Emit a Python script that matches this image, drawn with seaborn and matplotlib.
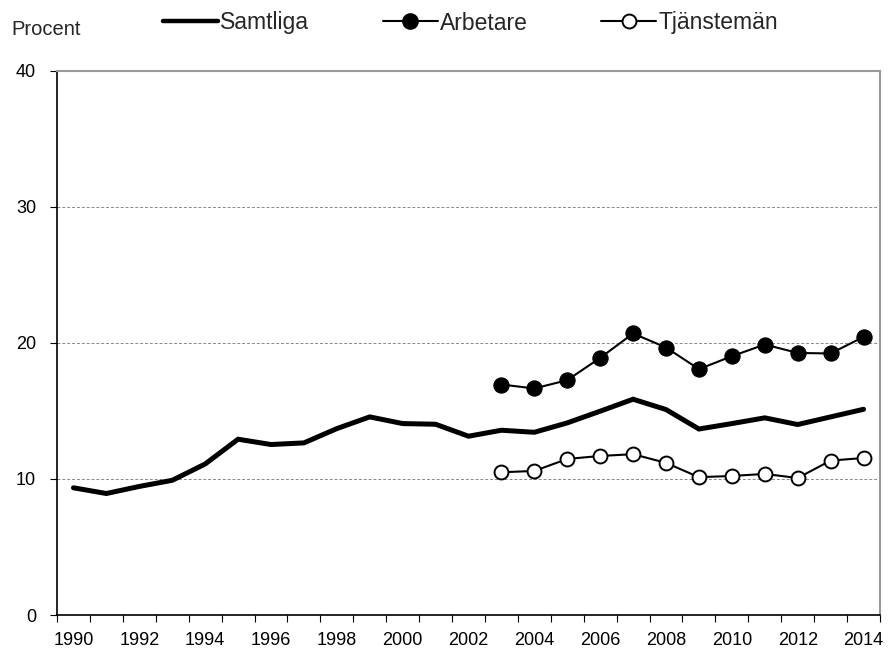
import matplotlib
matplotlib.use("Agg")
import matplotlib.pyplot as plt
import seaborn as sns
import pandas as pd
import numpy as np
from matplotlib.lines import Line2D

years = list(range(1990, 2015))
samtliga = [9.35, 8.93, 9.45, 9.9, 11.1, 12.92, 12.53, 12.65, 13.7, 14.56, 14.07,
            14.02, 13.14, 13.58, 13.43, 14.12, 14.98, 15.86, 15.1, 13.67, 14.07,
            14.49, 14.0, 14.56, 15.12]
years_sub = list(range(2003, 2015))
arbetare = [16.94, 16.65, 17.26, 18.9, 20.69, 19.66, 18.07, 19.02, 19.88, 19.26, 19.22, 20.44]
tjansteman = [10.49, 10.59, 11.47, 11.69, 11.82, 11.18, 10.13, 10.22, 10.37, 10.07, 11.35, 11.54]
tick_labels = [str(y) for y in range(1990, 2015, 2)]

sns.set_theme(style="white")
plt.rcParams['font.family'] = ['Liberation Sans', 'DejaVu Sans']

pos = {y: i for i, y in enumerate(years)}
df_all = pd.DataFrame({"x": [pos[y] for y in years], "v": samtliga})
df_arb = pd.DataFrame({"x": [pos[y] for y in years_sub], "v": arbetare})
df_tj = pd.DataFrame({"x": [pos[y] for y in years_sub], "v": tjansteman})

fig = plt.figure(figsize=(8.88, 6.5), dpi=100)
ax = fig.add_axes([0.0642, 0.0538, 0.9268, 0.8374])

sns.lineplot(data=df_all, x="x", y="v", ax=ax, color="black", linewidth=3.6,
             solid_joinstyle="miter")
sns.lineplot(data=df_arb, x="x", y="v", ax=ax, color="black", linewidth=1.5,
             marker="o", markersize=11, markerfacecolor="black", markeredgecolor="black")
sns.lineplot(data=df_tj, x="x", y="v", ax=ax, color="black", linewidth=1.5,
             marker="o", markersize=10, markerfacecolor="white", markeredgecolor="black",
             markeredgewidth=1.4)

ax.set_xlim(-0.5, len(years) - 0.5)
ax.set_ylim(0, 40)
ax.set_xlabel("")
ax.set_ylabel("")

ax.set_xticks(list(range(0, len(years), 2)))
ax.set_xticklabels(tick_labels)
ax.set_xticks(np.arange(-0.5, len(years), 1.0), minor=True)
ax.tick_params(axis="x", which="major", length=0, labelsize=13, pad=12, colors="black")
ax.tick_params(axis="x", which="minor", length=5, width=0.8, color="black", direction="out",
               bottom=True)
ax.set_yticks([0, 10, 20, 30, 40])
ax.tick_params(axis="y", which="major", length=5, width=0.8, color="black", direction="out",
               left=True, labelsize=13, pad=10, labelcolor="black")

for v in [10, 20, 30]:
    ax.axhline(v, color="#888888", linewidth=0.7, linestyle=(0, (3, 2)), zorder=0)

for s in ["left", "bottom"]:
    ax.spines[s].set_color("black")
    ax.spines[s].set_linewidth(1.2)
for s in ["top", "right"]:
    ax.spines[s].set_color("#999999")
    ax.spines[s].set_linewidth(1.5)

if ax.get_legend() is not None:
    ax.get_legend().remove()

fig.text(11.7 / 888, 1 - 35 / 650, "Procent", fontsize=14.5, ha="left", va="baseline")

handles = [
    Line2D([], [], color="black", linewidth=3.2),
    Line2D([], [], color="black", linewidth=1.5, marker="o", markersize=11,
           markerfacecolor="black"),
    Line2D([], [], color="black", linewidth=1.5, marker="o", markersize=10,
           markerfacecolor="white", markeredgewidth=1.4),
]
fig.legend(handles, ["Samtliga", "Arbetare", "Tjänstemän"], loc="center left",
           bbox_to_anchor=(163 / 888, 1 - 23 / 650), ncol=3, frameon=False, fontsize=16.5,
           handlelength=2.4, handletextpad=0.1, columnspacing=3.2,
           borderpad=0, borderaxespad=0)

fig.savefig("out.png", dpi=100)
